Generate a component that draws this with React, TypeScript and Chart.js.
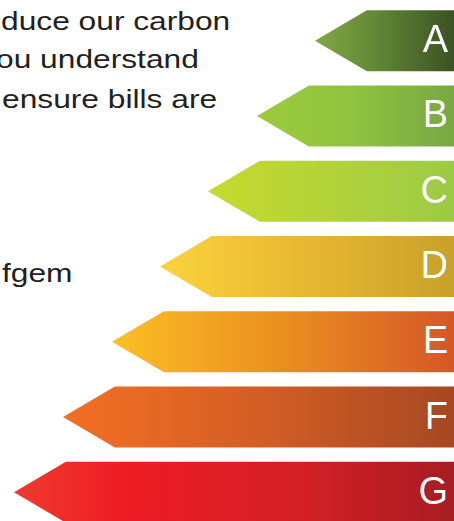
import React, { useEffect, useRef } from "react";
import { Chart, registerables } from "chart.js";

Chart.register(...registerables);

// Energy ratings and the length of each arrow (measured from the right edge)
const ratings: string[] = ["A", "B", "C", "D", "E", "F", "G"];
const arrowLengths: number[] = [139, 197, 246, 294, 342, 391, 440];

// Partially visible paragraph text on the left
const textLines: string[] = ["duce our carbon", "ou understand", "ensure bills are"];
const trailingText = "fgem";

// Styles
const gradientStops: string[][] = [
  ["#80a944", "#5e8233", "#3b5223"],
  ["#9ccb3b", "#8fc23f", "#79a743"],
  ["#c6da2d", "#b3d23a", "#9cca46"],
  ["#fcd23c", "#e6b832", "#c8a12a"],
  ["#fcbf24", "#e98f20", "#d55726"],
  ["#f37024", "#d35e25", "#a64822"],
  ["#ef3b2d", "#ed1c24", "#d21f26", "#a61d22"],
];

const W = 454;
const H = 530;

const arrowPlugin = {
  id: "arrowShapes",
  afterDatasetsDraw(chart: any) {
    const ctx: CanvasRenderingContext2D = chart.ctx;
    const meta = chart.getDatasetMeta(0);
    meta.data.forEach((bar: any, i: number) => {
      const { x, y, base, height } = bar.getProps(["x", "y", "base", "height"], true);
      const tip = Math.min(x, base);
      const right = Math.max(x, base);
      const half = height / 2;
      const tipW = height * 0.85;
      const stops = gradientStops[i];
      const g = ctx.createLinearGradient(tip, 0, right, 0);
      stops.forEach((c, k) => g.addColorStop(stops.length === 4 && k === 1 ? 0.25 : k / (stops.length - 1), c));
      ctx.save();
      ctx.beginPath();
      ctx.moveTo(tip, y);
      ctx.lineTo(tip + tipW, y - half);
      ctx.lineTo(right, y - half);
      ctx.lineTo(right, y + half);
      ctx.lineTo(tip + tipW, y + half);
      ctx.closePath();
      ctx.fillStyle = g;
      ctx.fill();
      ctx.fillStyle = "#ffffff";
      ctx.font = '38px "Liberation Sans", Arial, sans-serif';
      ctx.textAlign = "right";
      ctx.textBaseline = "middle";
      ctx.fillText(chart.data.labels[i], right - 6, y + 1);
      ctx.restore();
    });
  },
};

export default function App() {
  const ref = useRef<HTMLCanvasElement | null>(null);

  useEffect(() => {
    if (!ref.current) return;
    const chart = new Chart(ref.current, {
      type: "bar",
      data: {
        labels: ratings,
        datasets: [
          {
            data: arrowLengths,
            backgroundColor: "rgba(0,0,0,0)",
            borderWidth: 0,
            barThickness: 61,
          },
        ],
      },
      options: {
        indexAxis: "y",
        responsive: false,
        animation: false,
        events: [],
        layout: { padding: { top: 3, bottom: 0, left: 0, right: 0 } },
        scales: {
          x: { type: "linear", min: 0, max: W, reverse: true, display: false },
          y: { type: "category", display: false, offset: true },
        },
        plugins: {
          legend: { display: false },
          tooltip: { enabled: false },
          title: { display: false },
        },
      },
      plugins: [arrowPlugin],
    });
    return () => chart.destroy();
  }, []);

  const textStyle: React.CSSProperties = {
    position: "absolute",
    left: 0,
    margin: 0,
    whiteSpace: "nowrap",
    fontFamily: '"Liberation Sans", Arial, sans-serif',
    fontSize: "26px",
    lineHeight: "26px",
    color: "#231f20",
    transform: "scaleX(1.22)",
    transformOrigin: "left top",
  };

  const tops = [8, 46, 85.5];
  const lefts = [1, -4, 2];

  return (
    <div
      style={{
        position: "absolute",
        left: 0,
        top: 0,
        width: W,
        height: 521,
        overflow: "hidden",
        background: "#ffffff",
      }}
    >
      {textLines.map((t, i) => (
        <div key={i} style={{ ...textStyle, top: tops[i], left: lefts[i] }}>
          {t}
        </div>
      ))}
      <div style={{ ...textStyle, top: 259.7, left: 2 }}>{trailingText}</div>
      <canvas
        ref={ref}
        width={W}
        height={H}
        style={{ position: "absolute", left: 0, top: 0, width: W, height: H }}
      />
    </div>
  );
}
